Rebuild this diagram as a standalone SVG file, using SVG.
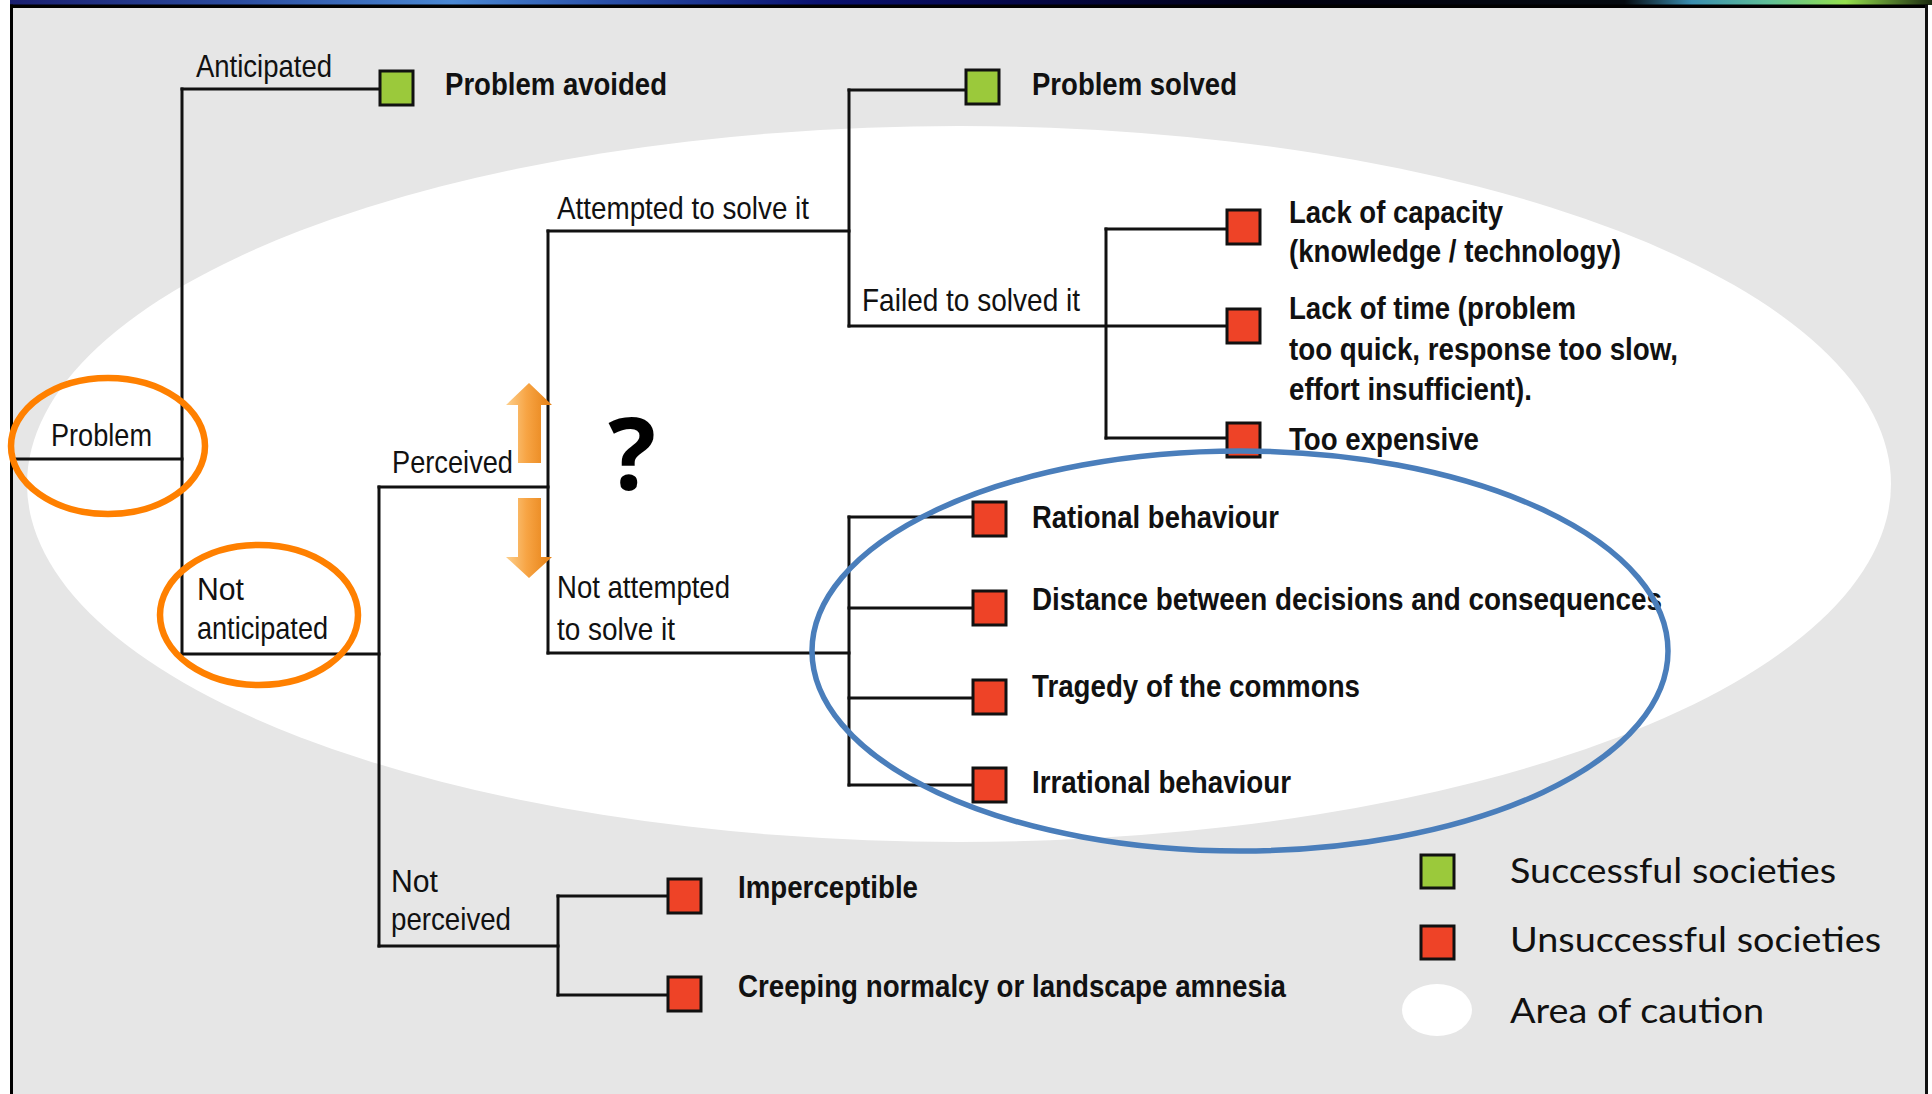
<svg xmlns="http://www.w3.org/2000/svg" width="1932" height="1094" viewBox="0 0 1932 1094">
  <defs>
    <linearGradient id="topBar" x1="10" y1="0" x2="1932" y2="0" gradientUnits="userSpaceOnUse">
      <stop offset="0" stop-color="#1a1f70"/>
      <stop offset="0.12" stop-color="#2c4da0"/>
      <stop offset="0.23" stop-color="#4a88d4"/>
      <stop offset="0.31" stop-color="#2a50a8"/>
      <stop offset="0.42" stop-color="#0a1270"/>
      <stop offset="0.52" stop-color="#05084a"/>
      <stop offset="0.66" stop-color="#000010"/>
      <stop offset="0.84" stop-color="#050a10"/>
      <stop offset="0.875" stop-color="#3a8eb0"/>
      <stop offset="0.915" stop-color="#5fbf98"/>
      <stop offset="0.955" stop-color="#94e04c"/>
      <stop offset="1" stop-color="#1c2a10"/>
    </linearGradient>
    <linearGradient id="arrowFill" x1="0" y1="0" x2="1" y2="0">
      <stop offset="0" stop-color="#fdd08e"/>
      <stop offset="0.45" stop-color="#f7a444"/>
      <stop offset="1" stop-color="#e57f12"/>
    </linearGradient>
    <style>
      .ln { fill: none; stroke: #111; stroke-width: 3; stroke-linecap: square; }
      .sq { stroke: #111; stroke-width: 3; }
      .ok { fill: #9bc93b; }
      .bad { fill: #ee4327; }
      .t { font-family: "Liberation Sans", Arial, sans-serif; font-size: 32px; fill: #111; }
      .b { font-family: "Liberation Sans", Arial, sans-serif; font-size: 31px; font-weight: bold; fill: #111; }
      .lg { font-family: Lato, "Open Sans", sans-serif; font-size: 35px; fill: #111; }
      .hl-o { fill: none; stroke: #ff8000; stroke-width: 6.5; }
      .hl-b { fill: none; stroke: #4a7ebb; stroke-width: 5.5; }
      .arrow { fill: url(#arrowFill); }
    </style>
  </defs>

  <!-- page frame -->
  <rect x="0" y="0" width="1932" height="1094" fill="#ffffff"/>
  <rect x="10" y="0" width="1922" height="5" fill="url(#topBar)"/>
  <rect x="10" y="4.5" width="1918" height="3.5" fill="#000"/>
  <rect x="13" y="8" width="1912" height="1086" fill="#e6e6e6"/>
  <rect x="10" y="4.5" width="3" height="1090" fill="#000"/>
  <rect x="1925" y="4.5" width="3" height="1090" fill="#111"/>

  <!-- area of caution -->
  <ellipse cx="959" cy="484" rx="932" ry="358" fill="#ffffff"/>

  <!-- connectors -->
  <g id="connectors">
    <path class="ln" d="M15 459 H182"/>
    <path class="ln" d="M182 89 V654"/>
    <path class="ln" d="M182 89 H380"/>
    <path class="ln" d="M182 654 H379"/>
    <path class="ln" d="M379 487 V946"/>
    <path class="ln" d="M379 487 H548"/>
    <path class="ln" d="M379 946 H558"/>
    <path class="ln" d="M558 896 V995"/>
    <path class="ln" d="M558 896 H668"/>
    <path class="ln" d="M558 995 H668"/>
    <path class="ln" d="M548 231 V653"/>
    <path class="ln" d="M548 231 H849"/>
    <path class="ln" d="M548 653 H849"/>
    <path class="ln" d="M849 90 V326"/>
    <path class="ln" d="M849 90 H966"/>
    <path class="ln" d="M849 326 H1227"/>
    <path class="ln" d="M1106 229 V438"/>
    <path class="ln" d="M1106 229 H1227"/>
    <path class="ln" d="M1106 438 H1227"/>
    <path class="ln" d="M849 517 V785"/>
    <path class="ln" d="M849 517 H973"/>
    <path class="ln" d="M849 608 H973"/>
    <path class="ln" d="M849 698 H973"/>
    <path class="ln" d="M849 785 H973"/>
  </g>

  <!-- branch labels -->
  <g id="problem"><text class="t" x="51" y="446" textLength="101" lengthAdjust="spacingAndGlyphs">Problem</text></g>
  <g id="anticipated"><text class="t" x="196" y="77" textLength="136" lengthAdjust="spacingAndGlyphs">Anticipated</text></g>
  <g id="not-anticipated">
    <text class="t" x="197" y="600" textLength="47" lengthAdjust="spacingAndGlyphs">Not</text>
    <text class="t" x="197" y="639" textLength="131" lengthAdjust="spacingAndGlyphs">anticipated</text>
  </g>
  <g id="perceived"><text class="t" x="392" y="473" textLength="121" lengthAdjust="spacingAndGlyphs">Perceived</text></g>
  <g id="not-perceived">
    <text class="t" x="391" y="892" textLength="47" lengthAdjust="spacingAndGlyphs">Not</text>
    <text class="t" x="391" y="930" textLength="120" lengthAdjust="spacingAndGlyphs">perceived</text>
  </g>
  <g id="attempted"><text class="t" x="557" y="219" textLength="252" lengthAdjust="spacingAndGlyphs">Attempted to solve it</text></g>
  <g id="not-attempted">
    <text class="t" x="557" y="598" textLength="173" lengthAdjust="spacingAndGlyphs">Not attempted</text>
    <text class="t" x="557" y="640" textLength="118" lengthAdjust="spacingAndGlyphs">to solve it</text>
  </g>
  <g id="failed"><text class="t" x="862" y="311" textLength="218" lengthAdjust="spacingAndGlyphs">Failed to solved it</text></g>

  <!-- outcomes -->
  <g id="problem-avoided">
    <rect class="sq ok" x="380" y="71" width="33" height="34"/>
    <text class="b" x="445" y="95" textLength="222" lengthAdjust="spacingAndGlyphs">Problem avoided</text>
  </g>
  <g id="problem-solved">
    <rect class="sq ok" x="966" y="70" width="33" height="34"/>
    <text class="b" x="1032" y="95" textLength="205" lengthAdjust="spacingAndGlyphs">Problem solved</text>
  </g>
  <g id="lack-of-capacity">
    <rect class="sq bad" x="1227" y="210" width="33" height="34"/>
    <text class="b" x="1289" y="223" textLength="214" lengthAdjust="spacingAndGlyphs">Lack of capacity</text>
    <text class="b" x="1289" y="262" textLength="332" lengthAdjust="spacingAndGlyphs">(knowledge / technology)</text>
  </g>
  <g id="lack-of-time">
    <rect class="sq bad" x="1227" y="309" width="33" height="34"/>
    <text class="b" x="1289" y="319" textLength="287" lengthAdjust="spacingAndGlyphs">Lack of time (problem</text>
    <text class="b" x="1289" y="360" textLength="389" lengthAdjust="spacingAndGlyphs">too quick, response too slow,</text>
    <text class="b" x="1289" y="400" textLength="243" lengthAdjust="spacingAndGlyphs">effort insufficient).</text>
  </g>
  <g id="too-expensive">
    <rect class="sq bad" x="1227" y="423" width="33" height="34"/>
    <text class="b" x="1289" y="450" textLength="190" lengthAdjust="spacingAndGlyphs">Too expensive</text>
  </g>
  <g id="rational">
    <rect class="sq bad" x="973" y="502" width="33" height="34"/>
    <text class="b" x="1032" y="528" textLength="247" lengthAdjust="spacingAndGlyphs">Rational behaviour</text>
  </g>
  <g id="distance">
    <rect class="sq bad" x="973" y="591" width="33" height="34"/>
    <text class="b" x="1032" y="610" textLength="630" lengthAdjust="spacingAndGlyphs">Distance between decisions and consequences</text>
  </g>
  <g id="tragedy">
    <rect class="sq bad" x="973" y="680" width="33" height="34"/>
    <text class="b" x="1032" y="697" textLength="328" lengthAdjust="spacingAndGlyphs">Tragedy of the commons</text>
  </g>
  <g id="irrational">
    <rect class="sq bad" x="973" y="768" width="33" height="34"/>
    <text class="b" x="1032" y="793" textLength="259" lengthAdjust="spacingAndGlyphs">Irrational behaviour</text>
  </g>
  <g id="imperceptible">
    <rect class="sq bad" x="668" y="879" width="33" height="34"/>
    <text class="b" x="738" y="898" textLength="180" lengthAdjust="spacingAndGlyphs">Imperceptible</text>
  </g>
  <g id="creeping-normalcy">
    <rect class="sq bad" x="668" y="977" width="33" height="34"/>
    <text class="b" x="738" y="997" textLength="548" lengthAdjust="spacingAndGlyphs">Creeping normalcy or landscape amnesia</text>
  </g>

  <!-- perceived: up / down choice -->
  <g id="choice">
    <polygon class="arrow" points="529,383 552,405 541,405 541,463 518,463 518,405 506,405"/>
    <polygon class="arrow" points="518,498 541,498 541,557 552,557 529,578 506,557 518,557"/>
    <text x="632" y="490" text-anchor="middle" font-family="'Open Sans', 'DejaVu Sans', sans-serif" font-weight="bold" font-size="100" fill="#000">?</text>
  </g>

  <!-- highlights -->
  <g id="highlights">
    <ellipse class="hl-o" cx="108" cy="446" rx="97" ry="68"/>
    <ellipse class="hl-o" cx="259" cy="615" rx="99" ry="70"/>
    <ellipse class="hl-b" cx="1240" cy="651" rx="428" ry="200"/>
  </g>

  <!-- legend -->
  <g id="legend">
    <rect class="sq ok" x="1421" y="855" width="33" height="33"/>
    <text class="lg" x="1510" y="883" textLength="326" lengthAdjust="spacingAndGlyphs">Successful societies</text>
    <rect class="sq bad" x="1421" y="926" width="33" height="33"/>
    <text class="lg" x="1510" y="952" textLength="371" lengthAdjust="spacingAndGlyphs">Unsuccessful societies</text>
    <ellipse cx="1437" cy="1010" rx="35" ry="26" fill="#ffffff"/>
    <text class="lg" x="1510" y="1023" textLength="254" lengthAdjust="spacingAndGlyphs">Area of caution</text>
  </g>
</svg>
